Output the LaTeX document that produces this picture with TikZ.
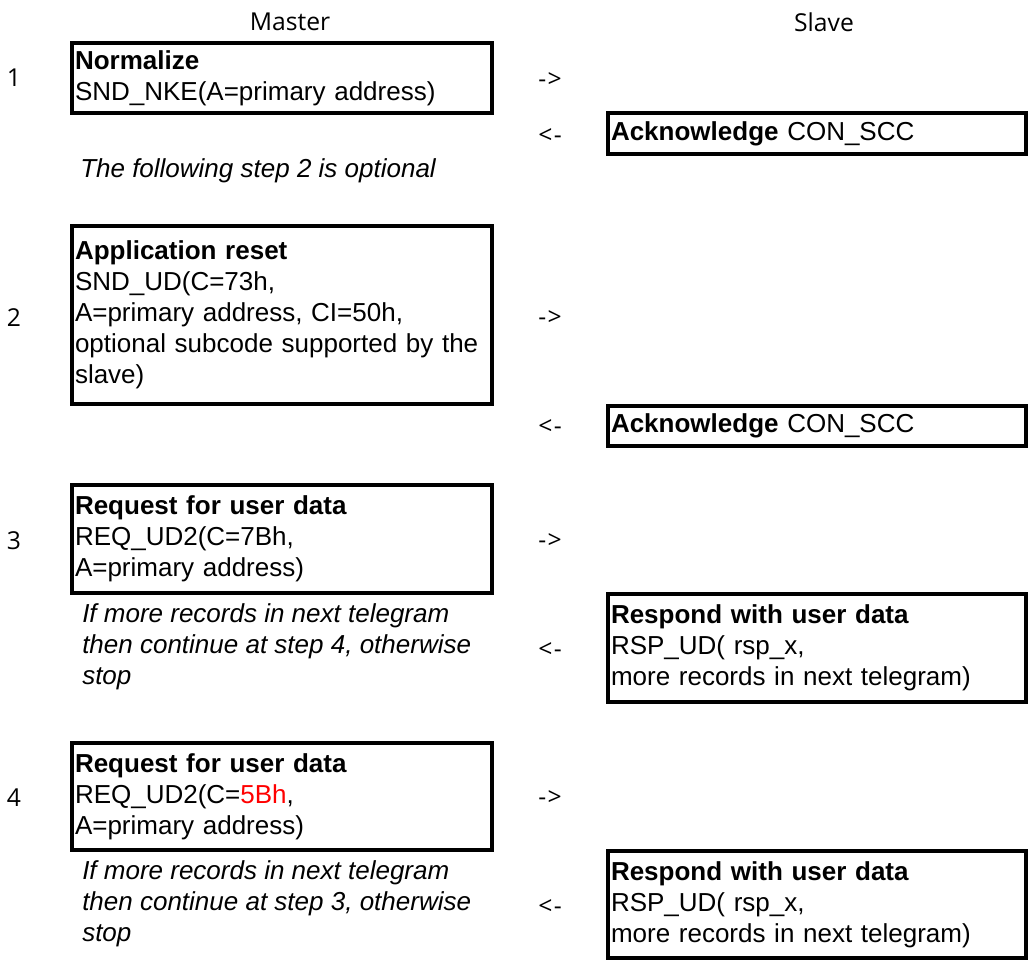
\documentclass[tikz,border=0pt]{standalone}
\usepackage{fontspec}
\setmainfont{Liberation Sans}
\newfontfamily\uifont{Open Sans}
\begin{document}
\begin{tikzpicture}[x=0.75pt,y=-0.75pt,
  txt/.style={font={\fontsize{19.5pt}{23.25pt}\selectfont}},
  mbox/.style={txt, draw, line width=2.6pt, inner xsep=2.25pt, inner ysep=0pt,
    minimum width=315pt, text width=310.5pt, align=left},
  sbox/.style={txt, draw, line width=2.6pt, inner xsep=2.25pt, inner ysep=0pt,
    minimum width=313.5pt, text width=309pt, align=left},
  note/.style={inner sep=0pt, anchor=west, align=left, font={\fontsize{19.5pt}{23.25pt}\selectfont\itshape}},
  ui/.style={inner sep=0pt, font={\uifont\fontsize{18.5pt}{22pt}\selectfont}}]
\useasboundingbox (0,0) rectangle (1033,961);
% headers
\node[ui] (master) at (290,22) {Master};
\node[ui] (slave) at (824,22) {Slave};
% step 1
\node[ui] (n1) at (14,78) {1};
\node[mbox, minimum height=52.5pt] (b1) at (282,78) {\textbf{Normalize}\\SND\_NKE(A=primary address)};
\node[ui] (r1) at (550,80) {-\kern1pt>};
\node[ui] (l1) at (550,136) {<\kern1pt-};
\node[sbox, minimum height=30.75pt] (s1) at (817,133.5) {\textbf{Acknowledge} CON\_SCC};
\node[note] (opt) at (80,171) {The following step 2 is optional};
% step 2
\node[ui] (n2) at (14,318) {2};
\node[mbox, minimum height=133.5pt] (b2) at (282,315) {\textbf{Application reset}\\SND\_UD(C=73h,\\A=primary address, CI=50h,\\optional subcode supported by the\\slave)};
\node[ui] (r2) at (550,318) {-\kern1pt>};
\node[ui] (l2) at (550,427) {<\kern1pt-};
\node[sbox, minimum height=30pt] (s2) at (817,426) {\textbf{Acknowledge} CON\_SCC};
% step 3
\node[ui] (n3) at (14,541) {3};
\node[mbox, minimum height=81pt] (b3) at (282,539) {\textbf{Request for user data}\\REQ\_UD2(C=7Bh,\\A=primary address)};
\node[ui] (r3) at (550,541) {-\kern1pt>};
\node[note] (i3) at (82,647) {If more records in next telegram\\then continue at step 4, otherwise\\stop};
\node[ui] (l3) at (550,650) {<\kern1pt-};
\node[sbox, minimum height=81pt] (s3) at (817,648) {\textbf{Respond with user data}\\RSP\_UD( rsp\_x,\\more records in next telegram)};
% step 4
\node[ui] (n4) at (14,798) {4};
\node[mbox, minimum height=80.25pt] (b4) at (282,796.5) {\textbf{Request for user data}\\REQ\_UD2(C=\textcolor{red}{5Bh},\\A=primary address)};
\node[ui] (r4) at (550,798) {-\kern1pt>};
\node[note] (i4) at (82,904) {If more records in next telegram\\then continue at step 3, otherwise\\stop};
\node[ui] (l4) at (550,907) {<\kern1pt-};
\node[sbox, minimum height=80.25pt] (s4) at (817,904.5) {\textbf{Respond with user data}\\RSP\_UD( rsp\_x,\\more records in next telegram)};
\end{tikzpicture}
\end{document}
